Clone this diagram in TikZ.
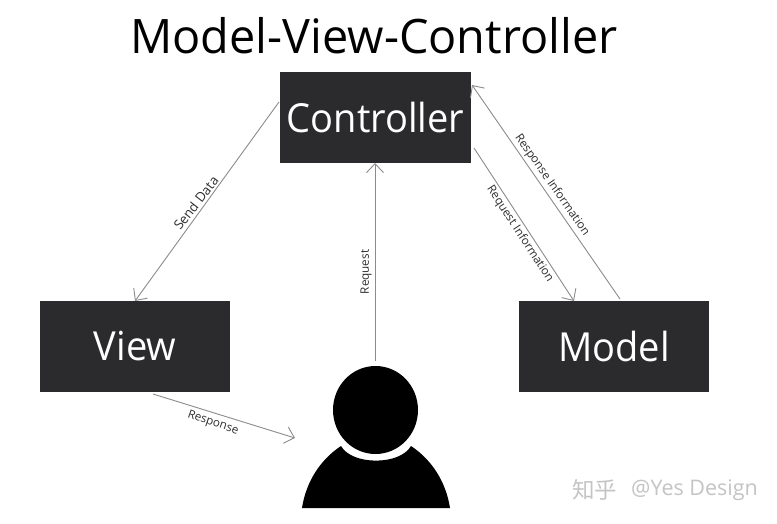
\documentclass[tikz,border=0pt]{standalone}
\usepackage{fontspec}
\setmainfont{Open Sans}
\newfontfamily\narrowfont[FakeStretch=0.95]{Open Sans}
\newfontfamily\titlefont[FakeStretch=0.985]{Open Sans}
\newfontfamily\cjkfont{Noto Sans CJK SC}
\usetikzlibrary{arrows.meta}
\definecolor{boxfill}{HTML}{2B2B2D}
\definecolor{linegray}{HTML}{8C8C8C}
\definecolor{labelgray}{HTML}{2E2E2E}
\definecolor{markgray}{HTML}{C4C4C4}
\tikzset{
  x=1pt,y=-1pt,
  mvcbox/.style={fill=boxfill,draw=none,minimum width=190.5pt,minimum height=91pt,inner sep=0pt,text=white,font=\narrowfont\fontsize{40}{40}\selectfont},
  link/.style={draw=linegray,line width=0.9pt,-{Straight Barb[length=9pt,width=17pt,line width=0.9pt]}},
  linklabel/.style={font=\fontsize{11.7}{12}\selectfont,text=labelgray,inner sep=0pt}
}
\begin{document}
\begin{tikzpicture}
\useasboundingbox (0,0) rectangle (777,524);
\fill[white] (0,0) rectangle (777,524);
\node[font=\titlefont\fontsize{47.5}{48}\selectfont,text=black,inner sep=0pt] (title) at (374,36) {Model-View-Controller};
\node[mvcbox] (controller) at (375.5,117.5) {Controller};
\node[mvcbox] (view) at (135,346.5) {View};
\node[mvcbox] (model) at (614,346.5) {Model};
% person
\fill[black] (302,508) .. controls (306,482) and (320,460) .. (341,446) .. controls (352,465.5) and (400,465.5) .. (411,446) .. controls (432,460) and (446,482) .. (450,508) -- cycle;
\fill[black] (375.5,410) ellipse [x radius=42.5,y radius=44];
\coordinate (person) at (375.5,410);
\coordinate (personTop) at (375,361);
\coordinate (personSide) at (295,438);
\coordinate (viewOut) at (153,394);
\coordinate (ctrlLeft) at (279,102);
\coordinate (viewTop) at (135,301);
\coordinate (ctrlBottom) at (375,163);
\coordinate (ctrlRight) at (472,85);
\coordinate (modelOutTop) at (620,299);
\coordinate (ctrlRightLow) at (474,148);
\coordinate (modelInTop) at (574,301);
\draw[link] (ctrlLeft) -- (viewTop);
\node[linklabel,font=\fontsize{13.2}{14}\selectfont,rotate=52] (sendLabel) at (196,203) {Send Data};
\draw[link] (personTop) -- (ctrlBottom);
\node[linklabel,rotate=90] (requestLabel) at (366,272) {Request};
\draw[link] (modelOutTop) -- (ctrlRight);
\node[linklabel,rotate=-55] (respInfo) at (552,185) {Response Information};
\draw[link] (ctrlRightLow) -- (modelInTop);
\node[linklabel,rotate=-57] (reqInfo) at (520,234) {Request Information};
\draw[link] (viewOut) -- (personSide);
\node[linklabel,rotate=-19] (respLabel) at (213,423) {Response};
\node[anchor=west,inner sep=0pt,text=markgray,font=\fontsize{22.5}{24}\selectfont] (mark) at (572,490) {{\cjkfont 知乎}};
\node[anchor=west,inner sep=0pt,text=markgray,font=\fontsize{21.5}{24}\selectfont] (handle) at (631,490) {@Yes Design};
\end{tikzpicture}
\end{document}
